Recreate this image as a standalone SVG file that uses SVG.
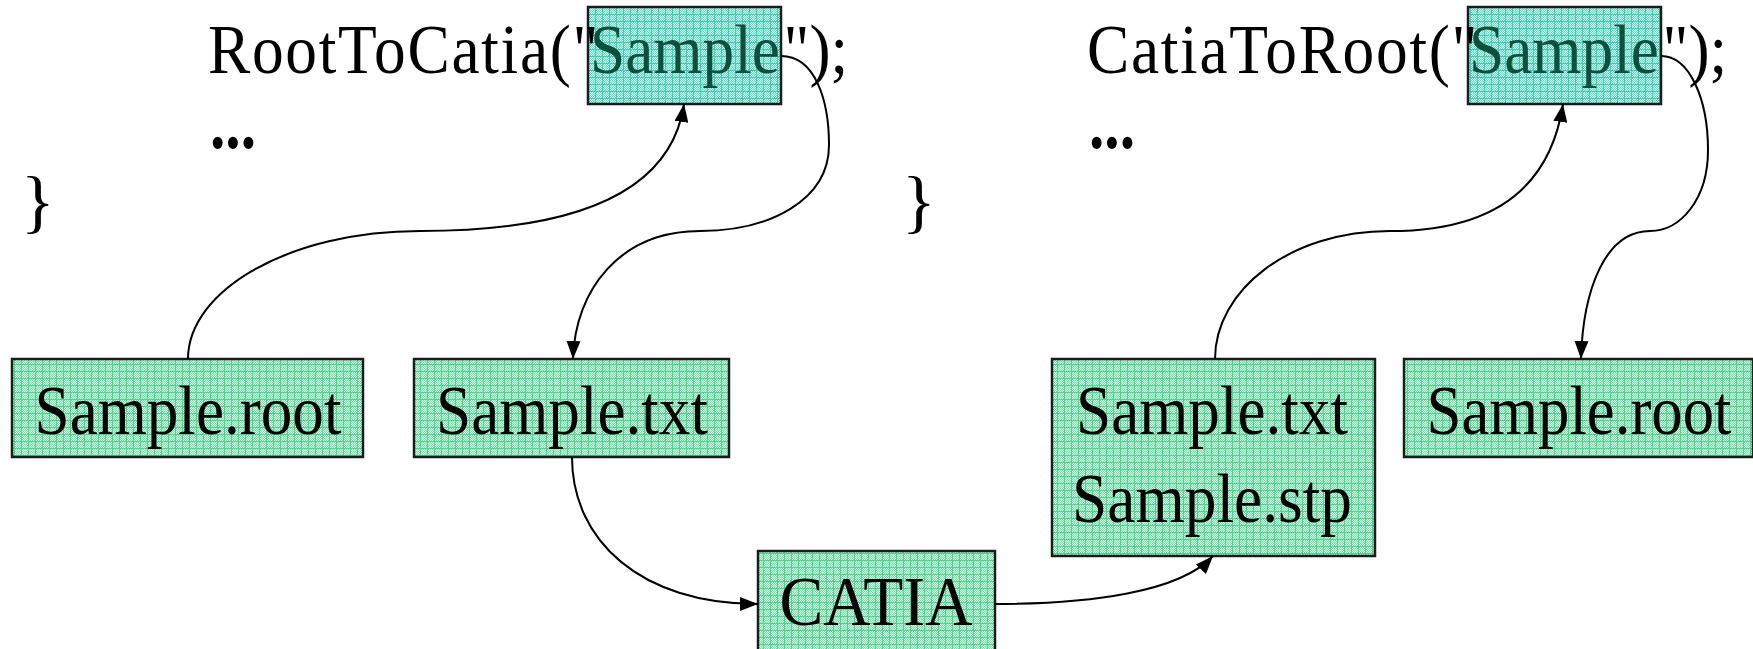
<svg xmlns="http://www.w3.org/2000/svg" width="1753" height="649" viewBox="0 0 1753 649">
<style>
.t{font-family:"Liberation Serif","Times New Roman",serif;font-size:70px;fill:#000}
.lbl{text-anchor:middle}
.dots{font-weight:bold;font-size:76px}
.pre{letter-spacing:1.9px}
.box{stroke:#1c1c1c;stroke-width:2.5}
.topbox{fill:url(#gridT)}
.botbox{fill:url(#gridB)}
.c{fill:none;stroke:#000;stroke-width:2;marker-end:url(#ah)}
.inbox{fill:#0d4f3f}
</style>
<defs>
<pattern id="ckT" width="2" height="2" patternUnits="userSpaceOnUse">
<rect width="2" height="2" fill="#d6f8ef"/>
<rect width="1" height="1" fill="#62dac2"/>
<rect x="1" y="1" width="1" height="1" fill="#62dac2"/>
</pattern>
<pattern id="gridT" width="7" height="7" patternUnits="userSpaceOnUse">
<rect width="7" height="7" fill="url(#ckT)"/>
<path d="M0,0.5H7M0.5,0V7" stroke="#3ecdb0" stroke-width="1"/>
</pattern>
<pattern id="ckB" width="2" height="2" patternUnits="userSpaceOnUse">
<rect width="2" height="2" fill="#dcf9e8"/>
<rect width="1" height="1" fill="#72e0a8"/>
<rect x="1" y="1" width="1" height="1" fill="#72e0a8"/>
</pattern>
<pattern id="gridB" width="7" height="7" patternUnits="userSpaceOnUse">
<rect width="7" height="7" fill="url(#ckB)"/>
<path d="M0,0.5H7M0.5,0V7" stroke="#4cd48c" stroke-width="1"/>
</pattern>
<marker id="ah" markerWidth="18" markerHeight="14" refX="18" refY="7" orient="auto" markerUnits="userSpaceOnUse">
<path d="M0,0L18,7L0,14z" fill="#000"/>
</marker>
</defs>

<g id="node-sample-left">
<rect class="box topbox" x="588" y="7" width="193" height="97"/>
</g>
<g id="node-sample-right">
<rect class="box topbox" x="1468" y="7" width="193" height="97"/>
</g>

<g id="code-left">
<text class="t" transform="translate(208,73) scale(0.905,1)"><tspan class="pre" x="0">RootToCatia("</tspan><tspan class="inbox" x="422">Sample</tspan><tspan x="636">");</tspan></text>
<text class="t dots" x="210" y="148" textLength="46" lengthAdjust="spacingAndGlyphs">...</text>
<text class="t" x="21" y="225">}</text>
</g>
<g id="code-right">
<text class="t" transform="translate(1087,73) scale(0.905,1)"><tspan class="pre" x="0">CatiaToRoot("</tspan><tspan class="inbox" x="422">Sample</tspan><tspan x="636">");</tspan></text>
<text class="t dots" x="1089" y="148" textLength="46" lengthAdjust="spacingAndGlyphs">...</text>
<text class="t" x="902" y="225">}</text>
</g>

<g id="node-sample-root-left">
<rect class="box botbox" x="12" y="359" width="351" height="98"/>
<text class="t lbl" x="188" y="434" textLength="307" lengthAdjust="spacingAndGlyphs">Sample.root</text>
</g>
<g id="node-sample-txt">
<rect class="box botbox" x="414" y="359" width="315" height="98"/>
<text class="t lbl" x="572" y="434" textLength="272" lengthAdjust="spacingAndGlyphs">Sample.txt</text>
</g>
<g id="node-catia">
<rect class="box botbox" x="758" y="551" width="237" height="100"/>
<text class="t lbl" x="876" y="625" textLength="193" lengthAdjust="spacingAndGlyphs">CATIA</text>
</g>
<g id="node-sample-txt-stp">
<rect class="box botbox" x="1052" y="359" width="323" height="197"/>
<text class="t lbl" x="1212" y="434" textLength="272" lengthAdjust="spacingAndGlyphs">Sample.txt</text>
<text class="t lbl" x="1212" y="522" textLength="280" lengthAdjust="spacingAndGlyphs">Sample.stp</text>
</g>
<g id="node-sample-root-right">
<rect class="box botbox" x="1404" y="359" width="349" height="98"/>
<text class="t lbl" x="1579" y="434" textLength="305" lengthAdjust="spacingAndGlyphs">Sample.root</text>
</g>

<g id="connectors">
<path class="c" d="M188,359 C188,290 290,231 420,231 C560,231 670,200 684,104"/>
<path class="c" d="M781,56 C815,56 829,100 829,145 C829,200 770,231 700,231 C620,231 575,290 573,359"/>
<path class="c" d="M572,457 C572,540 640,604 758,604"/>
<path class="c" d="M995,604 C1090,604 1180,592 1213,556"/>
<path class="c" d="M1215,359 C1215,290 1290,231 1390,231 C1490,231 1550,190 1563,104"/>
<path class="c" d="M1661,56 C1690,56 1708,100 1708,150 C1708,200 1680,231 1650,231 C1605,231 1583,290 1581,359"/>
</g>
</svg>
